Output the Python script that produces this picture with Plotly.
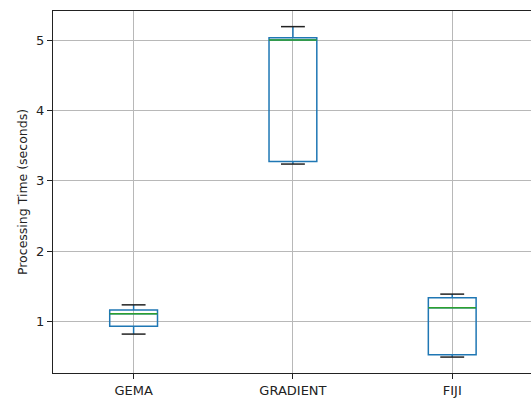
import plotly.graph_objects as go

categories = ["GEMA", "GRADIENT", "FIJI"]
lower_whisker = [0.815, 3.24, 0.487]
q1_values = [0.925, 3.275, 0.52]
median_values = [1.105, 5.01, 1.19]
q3_values = [1.16, 5.04, 1.335]
upper_whisker = [1.232, 5.20, 1.385]
y_ticks = [1, 2, 3, 4, 5]

positions = list(range(len(categories)))
box_width = 0.3
cap_half = box_width / 4

fig = go.Figure()
fig.add_trace(go.Box(
    x=positions, q1=q1_values, median=median_values, q3=q3_values,
    lowerfence=lower_whisker, upperfence=upper_whisker,
    width=box_width, whiskerwidth=0.0,
    line=dict(color="#1f77b4", width=1.5),
    fillcolor="rgba(0,0,0,0)", boxpoints=False, showlegend=False,
    hoverinfo="skip",
))

# medians (green) and caps (black)
mx, my = [], []
cx, cy = [], []
for p, m, lo, hi in zip(positions, median_values, lower_whisker, upper_whisker):
    mx += [p - box_width / 2, p + box_width / 2, None]
    my += [m, m, None]
    cx += [p - cap_half, p + cap_half, None, p - cap_half, p + cap_half, None]
    cy += [lo, lo, None, hi, hi, None]
fig.add_trace(go.Scatter(x=mx, y=my, mode="lines", line=dict(color="#2ca02c", width=1.5),
                         showlegend=False, hoverinfo="skip"))
fig.add_trace(go.Scatter(x=cx, y=cy, mode="lines", line=dict(color="#222222", width=1.5),
                         showlegend=False, hoverinfo="skip"))

font = "DejaVu Sans, sans-serif"
# figure is a little wider than the window: the plot's right frame falls outside it,
# as in the reference
fig.update_layout(
    width=540, height=399,
    margin=dict(l=53, r=0, t=11, b=26),
    paper_bgcolor="white", plot_bgcolor="white",
    font=dict(family=font, size=13, color="#222222"),
    showlegend=False,
    xaxis=dict(
        range=[-0.506, 2.551], tickmode="array", tickvals=positions, ticktext=categories,
        showgrid=True, gridcolor="#b8b8b8", gridwidth=1,
        showline=True, linecolor="#222222", linewidth=1.2, mirror=True,
        ticks="outside", ticklen=5, tickcolor="#222222", zeroline=False,
        tickfont=dict(size=13),
    ),
    yaxis=dict(
        range=[0.26, 5.423], tickmode="array", tickvals=y_ticks,
        showgrid=True, gridcolor="#b8b8b8", gridwidth=1,
        showline=True, linecolor="#222222", linewidth=1.2, mirror=False,
        ticks="outside", ticklen=5, tickcolor="#222222", zeroline=False,
        tickfont=dict(size=13),
        title=dict(text="Processing Time (seconds)", font=dict(size=12.5), standoff=5),
    ),
)
fig.write_html(
    "out.html",
    config={"displayModeBar": False, "staticPlot": True},
    post_script="document.body.style.margin='0';document.body.style.overflow='hidden';",
)
